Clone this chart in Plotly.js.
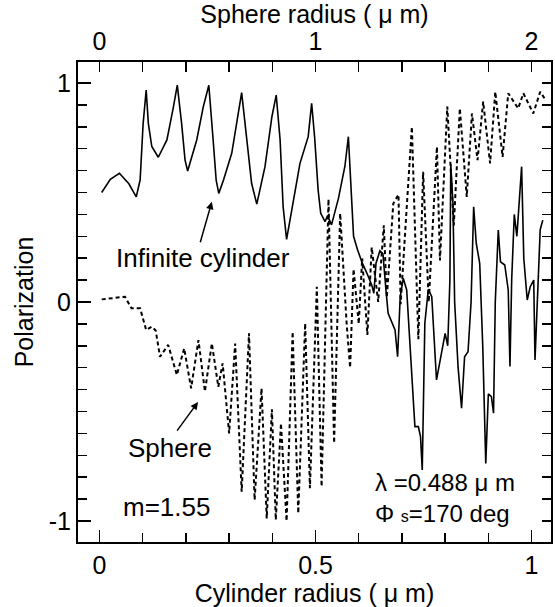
<!DOCTYPE html>
<html><head><meta charset="utf-8">
<script src="https://cdn.plot.ly/plotly-3.0.1.min.js"></script>
<style>html,body{margin:0;padding:0;background:#fff}#chart{width:555px;height:607px}</style>
</head><body><div id="chart"></div>
<script>
// Infinite cylinder: polarization vs cylinder radius (um)
const cylinderRadius = [0.005,0.025,0.046,0.068,0.085,0.094,0.101,0.108,0.113,0.121,0.136,0.156,0.171,0.180,0.190,0.198,0.204,0.225,0.240,0.253,0.263,0.270,0.276,0.287,0.306,0.318,0.329,0.341,0.352,0.364,0.383,0.399,0.409,0.418,0.425,0.433,0.449,0.464,0.483,0.491,0.498,0.506,0.512,0.522,0.528,0.537,0.553,0.568,0.576,0.582,0.588,0.597,0.607,0.619,0.630,0.635,0.640,0.649,0.656,0.663,0.668,0.684,0.690,0.696,0.703,0.711,0.723,0.730,0.738,0.743,0.747,0.753,0.761,0.769,0.780,0.790,0.800,0.806,0.811,0.813,0.818,0.822,0.830,0.838,0.845,0.853,0.860,0.866,0.872,0.880,0.887,0.894,0.900,0.907,0.912,0.916,0.923,0.928,0.938,0.946,0.950,0.954,0.960,0.966,0.977,0.982,0.990,0.997,1.005,1.008,1.013,1.020,1.026];
const cylinderPolarization = [0.50,0.56,0.588,0.54,0.48,0.557,0.816,0.968,0.816,0.71,0.661,0.74,0.89,0.99,0.816,0.648,0.598,0.74,0.89,0.99,0.74,0.557,0.496,0.557,0.679,0.816,0.956,0.74,0.542,0.447,0.618,0.846,0.945,0.74,0.435,0.286,0.466,0.633,0.755,0.907,0.75,0.511,0.405,0.367,0.395,0.352,0.473,0.62,0.755,0.55,0.30,0.24,0.184,0.131,0.078,0.040,0.177,0.234,0.22,0.055,-0.052,-0.128,-0.25,0.024,0.108,0.055,-0.31,-0.569,-0.569,-0.615,-0.767,-0.097,0.058,0.024,-0.356,-0.25,-0.143,-0.20,0.10,0.63,0.45,0.0,-0.30,-0.485,-0.25,-0.227,0.0,0.435,0.268,0.177,-0.2,-0.737,-0.42,-0.432,-0.508,0.0,0.329,0.184,0.169,0.055,-0.295,0.10,0.40,0.30,0.618,0.2,0.009,0.07,0.10,-0.265,0.0,0.33,0.374];
// Sphere: polarization vs sphere radius (um), read on the top axis
const sphereRadius = [0.01,0.118,0.148,0.188,0.216,0.242,0.26,0.28,0.318,0.358,0.392,0.424,0.458,0.488,0.52,0.55,0.57,0.60,0.628,0.658,0.692,0.718,0.75,0.774,0.798,0.816,0.84,0.866,0.894,0.92,0.952,0.974,1.006,1.028,1.06,1.086,1.114,1.144,1.16,1.176,1.20,1.216,1.24,1.26,1.29,1.316,1.33,1.36,1.384,1.394,1.42,1.446,1.476,1.498,1.524,1.562,1.576,1.61,1.64,1.668,1.70,1.724,1.75,1.776,1.808,1.832,1.866,1.892,1.938,1.962,2.008,2.04,2.06];
const spherePolarization = [0.012,0.024,-0.029,-0.029,-0.128,-0.113,-0.13,-0.25,-0.196,-0.333,-0.212,-0.394,-0.174,-0.409,-0.189,-0.387,-0.28,-0.60,-0.19,-0.866,-0.143,-0.904,-0.394,-0.988,-0.49,-0.995,-0.554,-1.0,-0.136,-0.965,-0.097,-0.85,0.07,-0.843,0.47,-0.645,0.405,-0.10,-0.30,0.15,-0.10,0.20,-0.15,0.25,0.0,0.35,0.02,0.45,0.49,-0.01,0.40,0.80,-0.17,0.595,0.0,0.709,0.19,0.892,0.35,0.884,0.48,0.861,0.648,0.915,0.633,0.96,0.663,0.953,0.884,0.953,0.861,0.96,0.93];

const bottomTickVals = [0, 0.5, 1];
const bottomTickText = ['0', '0.5', '1'];
const topTickVals = [0, 1, 2];
const topTickText = ['0', '1', '2'];
const yTickVals = [-1, 0, 1];
const yTickText = ['-1', '0', '1'];

const FONT = 'Liberation Sans, Arial, Helvetica, sans-serif';
const BLK = '#000';
const FS = 25;

const traces = [
  {x: cylinderRadius, y: cylinderPolarization, type: 'scatter', mode: 'lines',
   line: {color: BLK, width: 1.6}, xaxis: 'x', yaxis: 'y', hoverinfo: 'skip'},
  {x: sphereRadius, y: spherePolarization, type: 'scatter', mode: 'lines',
   line: {color: BLK, width: 2, dash: '4px,3px'}, xaxis: 'x2', yaxis: 'y2', hoverinfo: 'skip'}
];

const yRange = [-1.096, 1.096];
const minorY = {tickmode: 'linear', tick0: 0, dtick: 0.1, ticks: 'inside', ticklen: 9, tickwidth: 1.5, tickcolor: BLK, showgrid: false};
const layout = {
  width: 555, height: 607,
  margin: {l: 78, r: 4, t: 62, b: 65, pad: 0},
  paper_bgcolor: '#fff', plot_bgcolor: '#fff',
  showlegend: false,
  font: {family: FONT, size: FS, color: BLK},
  xaxis: {
    range: [-0.0498, 1.045], tickmode: 'array', tickvals: bottomTickVals, ticktext: bottomTickText,
    ticks: 'inside', ticklen: 12, tickwidth: 1.5, tickcolor: BLK,
    minor: {tickmode: 'linear', tick0: 0, dtick: 0.1, ticks: 'inside', ticklen: 9, tickwidth: 1.5, tickcolor: BLK, showgrid: false},
    showline: true, linecolor: BLK, linewidth: 2, showgrid: false, zeroline: false,
    automargin: false, tickfont: {size: FS},
    title: {text: 'Cylinder radius ( μ m)', font: {size: FS}, standoff: 6}
  },
  xaxis2: {
    overlaying: 'x', side: 'top', anchor: 'y',
    range: [-0.0996, 2.09], tickmode: 'array', tickvals: topTickVals, ticktext: topTickText,
    ticks: 'inside', ticklen: 10, tickwidth: 1.5, tickcolor: BLK,
    minor: {tickmode: 'linear', tick0: 0, dtick: 0.2, ticks: 'inside', ticklen: 10, tickwidth: 1.5, tickcolor: BLK, showgrid: false},
    showline: true, linecolor: BLK, linewidth: 2, showgrid: false, zeroline: false,
    automargin: false, tickfont: {size: FS},
    title: {text: 'Sphere radius ( μ m)', font: {size: FS}, standoff: 2}
  },
  yaxis: {
    range: yRange, tickmode: 'array', tickvals: yTickVals, ticktext: yTickText,
    ticks: 'inside', ticklen: 13, tickwidth: 1.5, tickcolor: BLK, minor: minorY,
    showline: true, linecolor: BLK, linewidth: 2, showgrid: false, zeroline: false,
    automargin: false, tickfont: {size: FS},
    title: {text: 'Polarization', font: {size: FS}, standoff: 8}
  },
  yaxis2: {
    overlaying: 'y', side: 'right', anchor: 'x',
    range: yRange, tickmode: 'array', tickvals: yTickVals, showticklabels: false,
    ticks: 'inside', ticklen: 9, tickwidth: 1.5, tickcolor: BLK, minor: minorY,
    showline: true, linecolor: BLK, linewidth: 2, showgrid: false, zeroline: false,
    automargin: false
  },
  annotations: [
    {x: 0.2396, y: 0.201, xref: 'x', yref: 'y', text: 'Infinite cylinder', showarrow: false, font: {size: 26}},
    {x: 0.26, y: 0.458, xref: 'x', yref: 'y', text: '', showarrow: true, ax: -12, ay: 42,
     arrowhead: 2, arrowsize: 1, arrowwidth: 1.5, arrowcolor: BLK, standoff: 0},
    {x: 0.163, y: -0.667, xref: 'x', yref: 'y', text: 'Sphere', showarrow: false, font: {size: 26}},
    {x: 0.228, y: -0.457, xref: 'x', yref: 'y', text: '', showarrow: true, ax: -22, ay: 30,
     arrowhead: 2, arrowsize: 1, arrowwidth: 1.5, arrowcolor: BLK, standoff: 0},
    {x: 0.156, y: -0.936, xref: 'x', yref: 'y', text: 'm=1.55', showarrow: false, font: {size: 26}},
    {x: 0.632, y: -0.895, xref: 'x', yref: 'y', xanchor: 'left', align: 'left', showarrow: false, font: {size: 24},
     text: 'λ =0.488 μ m<br>Φ <span style="font-size:16px">s</span>=170 deg'}
  ]
};

Plotly.newPlot('chart', traces, layout, {staticPlot: true, displayModeBar: false});
</script>
</body></html>
